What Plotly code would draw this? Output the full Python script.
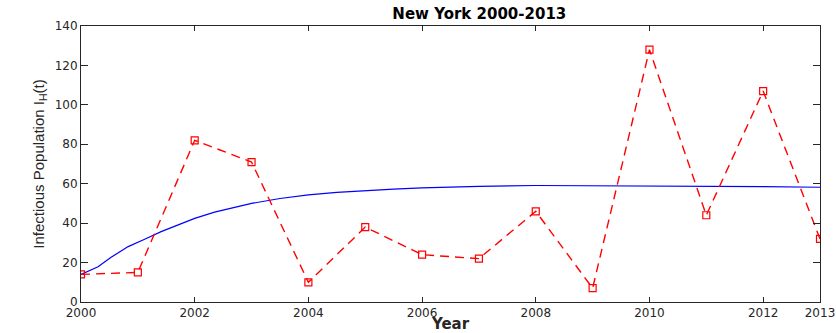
import plotly.graph_objects as go

# Observed infectious cases, New York 2000-2013
years = [2000, 2001, 2002, 2003, 2004, 2005, 2006, 2007, 2008, 2009, 2010, 2011, 2012, 2013]
cases = [14, 15, 82, 71, 10, 38, 24, 22, 46, 7, 128, 44, 107, 32]

# Model solution I_H(t)
model_t = [2000, 2000.15, 2000.3, 2000.53, 2000.83, 2001.12, 2001.41, 2001.71, 2002, 2002.35,
           2002.7, 2003, 2003.5, 2004, 2004.5, 2005, 2005.5, 2006, 2007, 2008, 2009, 2010,
           2011, 2012, 2013]
model_i = [14, 15.8, 17.9, 22.7, 28.1, 31.8, 35.7, 39.1, 42.4, 45.6,
           48.1, 50.0, 52.5, 54.3, 55.6, 56.5, 57.3, 57.9, 58.7, 59.1, 59.0, 58.9,
           58.7, 58.5, 58.2]

x_ticks = [2000, 2002, 2004, 2006, 2008, 2010, 2012, 2013]
y_ticks = [0, 20, 40, 60, 80, 100, 120, 140]

axis_color = "#262626"
tick_font = dict(family="DejaVu Sans, Liberation Sans, sans-serif", size=12, color=axis_color)

fig = go.Figure()

fig.add_trace(go.Scatter(
    x=model_t, y=model_i, mode="lines",
    line=dict(color="#0000ff", width=1.2),
    showlegend=False, hoverinfo="skip",
))

fig.add_trace(go.Scatter(
    x=years, y=cases, mode="lines+markers",
    line=dict(color="#ff0000", width=1.4, dash="9px,6px"),
    marker=dict(symbol="square-open", size=7, color="#ff0000", line=dict(width=1.2, color="#ff0000")),
    showlegend=False,
))

fig.update_layout(
    width=836, height=333,
    margin=dict(l=81, r=16, t=26, b=31),
    paper_bgcolor="white", plot_bgcolor="white",
    title=dict(
        text="<b>New York 2000-2013</b>",
        font=dict(family="DejaVu Sans, Liberation Sans, sans-serif", size=15, color="black"),
        x=0.539, xanchor="center", xref="paper", y=1 - 14 / 333, yanchor="middle", yref="container",
    ),
    xaxis=dict(
        range=[2000, 2013], tickvals=x_ticks, ticktext=[str(v) for v in x_ticks],
        ticks="inside", ticklen=5, tickwidth=1, tickcolor=axis_color,
        showline=True, linecolor=axis_color, linewidth=1, mirror="ticks",
        showgrid=False, zeroline=False, tickfont=tick_font, automargin=False,
        title=dict(text="<b>Year</b>", standoff=0,
                   font=dict(family="DejaVu Sans, Liberation Sans, sans-serif", size=15, color=axis_color)),
    ),
    yaxis=dict(
        range=[0, 140], tickvals=y_ticks,
        ticks="inside", ticklen=7, tickwidth=1, tickcolor=axis_color,
        showline=True, linecolor=axis_color, linewidth=1, mirror="ticks",
        showgrid=False, zeroline=False, tickfont=tick_font, automargin=False,
        title=dict(text="Infectious Population I<sub>H</sub>(t)", standoff=6,
                   font=dict(family="Liberation Sans, Arial, sans-serif", size=15, color=axis_color)),
    ),
)

fig.write_html("out.html")
